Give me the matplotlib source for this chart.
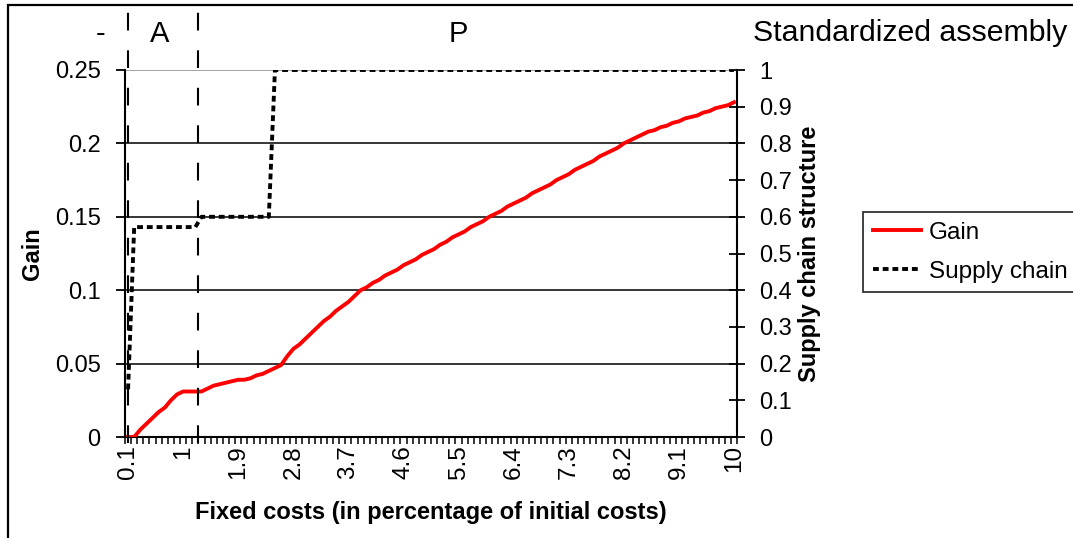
"""
Gain and supply chain structure as a function of fixed costs
(standardized assembly case)
"""
import numpy as np
import matplotlib.pyplot as plt
from matplotlib.patches import Rectangle
from matplotlib.lines import Line2D
#
plt.rcParams['font.family'] = ['Liberation Sans', 'DejaVu Sans']
#
# fixed costs categories, 0.1 .. 10 in steps of 0.1
fixed_costs = [round(0.1 * k, 1) for k in range(1, 101)]
tick_labels = ["0.1", "1", "1.9", "2.8", "3.7", "4.6",
               "5.5", "6.4", "7.3", "8.2", "9.1", "10"]

gain = [
    0.000, 0.000, 0.005, 0.009, 0.013, 0.017, 0.020, 0.025, 0.029, 0.031,
    0.031, 0.031, 0.031, 0.033, 0.035, 0.036, 0.037, 0.038, 0.039, 0.039,
    0.040, 0.042, 0.043, 0.045, 0.047, 0.049, 0.055, 0.060, 0.063, 0.067,
    0.071, 0.075, 0.079, 0.082, 0.086, 0.089, 0.092, 0.096, 0.100, 0.102,
    0.105, 0.107, 0.110, 0.112, 0.114, 0.117, 0.119, 0.121, 0.124, 0.126,
    0.128, 0.131, 0.133, 0.136, 0.138, 0.140, 0.143, 0.145, 0.147, 0.150,
    0.152, 0.154, 0.157, 0.159, 0.161, 0.163, 0.166, 0.168, 0.170, 0.172,
    0.175, 0.177, 0.179, 0.182, 0.184, 0.186, 0.188, 0.191, 0.193, 0.195,
    0.197, 0.200, 0.202, 0.204, 0.206, 0.208, 0.209, 0.211, 0.212, 0.214,
    0.215, 0.217, 0.218, 0.219, 0.221, 0.222, 0.224, 0.225, 0.226, 0.228,
]
supply_chain = [0.13] + [0.572] * 11 + [0.6] * 12 + [1.0] * 76

# region limits (fixed costs) and names
region_edges = [0.1, 1.25]
region_names = ["-", "A", "P"]
region_centers = [-0.35, 0.62, 5.5]
title = "Standardized assembly"

pos = np.arange(len(fixed_costs))


def to_pos(v):
    return (v - fixed_costs[0]) / 0.1


DOTS = (0, (1.5, 1.0))

fig = plt.figure(figsize=(10.73, 5.38), dpi=100)
ax = fig.add_axes([125 / 1073, 1 - 437 / 538, 612 / 1073, 367 / 538])
ax2 = ax.twinx()

# gain on the left axis
ax.plot(pos, gain, color='red', lw=2.8, solid_joinstyle='round', zorder=4)
ax.set_xlim(-0.5, len(pos) - 0.5)
ax.set_ylim(0, 0.25)
ax.set_yticks([0, 0.05, 0.1, 0.15, 0.2, 0.25])
ax.set_yticklabels(["0", "0.05", "0.1", "0.15", "0.2", "0.25"], fontsize=17)
ax.grid(axis='y', color='black', lw=1.1)
ax.get_ygridlines()[-1].set_color('#8c8c8c')
ax.set_axisbelow(True)

# x axis: labels every 9 categories, ticks between categories
ax.set_xticks(pos[::9])
ax.set_xticklabels(tick_labels, rotation=90, fontsize=17.5)
ax.set_xticks(np.arange(-0.5, len(pos)), minor=True)
ax.tick_params(axis='x', which='major', length=0, pad=6)
ax.tick_params(axis='x', which='minor', length=5, width=1.1, direction='out')
ax.tick_params(axis='y', length=6.5, width=1.3, direction='out', pad=11)
for s in ['left', 'bottom']:
    ax.spines[s].set_linewidth(1.5)
ax.spines['top'].set_visible(False)
ax.spines['right'].set_visible(False)

ax.set_xlabel("Fixed costs (in percentage of initial costs)",
              fontsize=17, fontweight='bold', labelpad=16)
ax.set_ylabel("Gain", fontsize=17, fontweight='bold', labelpad=8)

# supply chain structure on the right axis
ax2.plot(pos, supply_chain, color='black', lw=2.8, linestyle=DOTS, zorder=5)
ax2.set_ylim(0, 1)
ax2.set_yticks(np.arange(0, 1.01, 0.1))
ax2.set_yticklabels(["0", "0.1", "0.2", "0.3", "0.4", "0.5",
                     "0.6", "0.7", "0.8", "0.9", "1"], fontsize=17)
ax2.tick_params(axis='y', length=12, width=1.3, direction='inout', pad=10)
ax2.spines['right'].set_linewidth(1.5)
for s in ['left', 'top', 'bottom']:
    ax2.spines[s].set_visible(False)
ax2.set_ylabel("Supply chain structure", fontsize=17, fontweight='bold',
               labelpad=4)

# region limits
for e in region_edges:
    ax.plot([to_pos(e), to_pos(e)], [-0.004, 0.2935], color='black', lw=1.5,
            linestyle=(0, (8.5, 9.5)), clip_on=False, zorder=6)
for name, c in zip(region_names, region_centers):
    ax.text(to_pos(c), 0.2745, name, fontsize=21, ha='center', va='center')
fig.text(753 / 1073, 1 - 33 / 538, title, fontsize=21.8, ha='left',
         va='center')

# legend
handles = [Line2D([], [], color='red', lw=2.8),
           Line2D([], [], color='black', lw=2.8, linestyle=DOTS)]
leg = fig.legend(handles, ["Gain", "Supply chain"], fontsize=17.5,
                 loc='upper left', bbox_to_anchor=(863 / 1073, 1 - 212 / 538),
                 frameon=True, fancybox=False, borderaxespad=0,
                 handlelength=2.0, handletextpad=0.3, labelspacing=0.7,
                 borderpad=0.4)
leg.get_frame().set_edgecolor('black')
leg.get_frame().set_linewidth(1.3)

# outer frame
fig.patches.append(Rectangle((8 / 1073, -0.1), 1.2, 1.1 - 5 / 538,
                             transform=fig.transFigure, fill=False,
                             edgecolor='black', lw=1.6))

fig.savefig("out.png", dpi=100)
